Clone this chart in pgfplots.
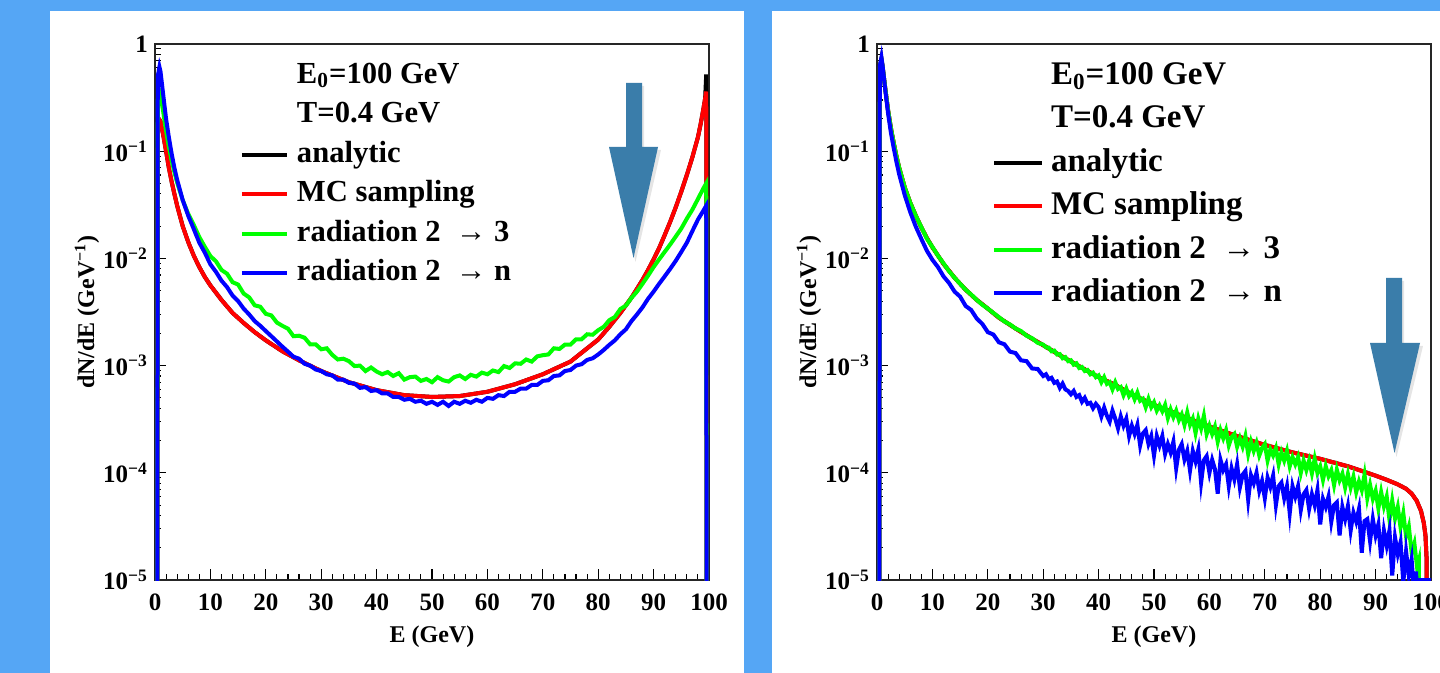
\documentclass[border=0pt]{standalone}
\usepackage{fontspec}
\setmainfont{Liberation Serif}
\usepackage{pgfplots}
\pgfplotsset{compat=1.18}
\usepackage{pgfplotstable}
\definecolor{bgblue}{RGB}{85,166,245}
\definecolor{arrowblue}{RGB}{58,125,170}
\definecolor{rgreen}{RGB}{0,255,0}
\definecolor{rblue}{RGB}{0,0,255}
\definecolor{rred}{RGB}{255,0,0}

% ---------------- left panel ----------------
\pgfplotstableread{
x y
0.4 1e-6
0.5 0.2
0.7 0.2
1 0.19
1.5 0.14
2 0.1
2.5 0.07
3 0.052
3.5 0.04
4 0.031
5 0.02
6 0.0142
7 0.0106
8 0.0083
9 0.0067
10 0.0056
12 0.0041
14 0.0031
16 0.0025
18 0.00205
20 0.00172
23 0.00136
26 0.00112
30 0.00089
35 0.00070
40 0.00059
45 0.00053
50 0.00051
55 0.00052
60 0.00057
65 0.00067
70 0.00083
75 0.00109
80 0.00175
82 0.0023
84 0.0031
86 0.0043
88 0.0063
89 0.0078
90 0.0098
91 0.0125
92 0.0165
93 0.022
94 0.030
95 0.042
96 0.060
97 0.088
98 0.135
98.5 0.18
99 0.25
99.3 0.31
99.5 0.52
99.6 1e-6
}\LBlack
\pgfplotstableread{
x y
0.4 1e-6
0.5 0.17
0.7 0.2
1 0.19
1.5 0.14
2 0.1
2.5 0.07
3 0.052
3.5 0.04
4 0.031
5 0.02
6 0.0142
7 0.0106
8 0.0083
9 0.0067
10 0.0056
12 0.0041
14 0.0031
16 0.0025
18 0.00205
20 0.00172
23 0.00136
26 0.00112
30 0.00089
35 0.00070
40 0.00059
45 0.00053
50 0.00051
55 0.00052
60 0.00057
65 0.00067
70 0.00083
75 0.00109
80 0.00175
82 0.0023
84 0.0031
86 0.0043
88 0.0063
89 0.0078
90 0.0098
91 0.0125
92 0.0165
93 0.022
94 0.030
95 0.042
96 0.060
97 0.088
98 0.135
98.5 0.18
99 0.25
99.3 0.31
99.5 0.36
99.6 1e-6
}\LRed
\pgfplotstableread{
x y
0.4 1e-6
0.5 0.3
0.8 0.36
1 0.33
1.5 0.23
2 0.155
2.5 0.11
3 0.082
3.5 0.064
4 0.051
5 0.035
6 0.026
7 0.0205
8 0.0158
9 0.0128
10 0.0105
11 0.0094
12 0.0078
13 0.0072
14 0.0060
15 0.0057
16 0.0047
17 0.00433
18 0.00365
19 0.00354
20 0.00304
21 0.00294
22 0.00252
23 0.00235
24 0.00221
25 0.00188
26 0.00190
27 0.00182
28 0.00158
29 0.00158
30 0.00142
31 0.00145
32 0.00126
33 0.00114
34 0.00116
35 0.00110
36 0.00099
37 0.00100
38 0.00089
39 0.00096
40 0.00088
41 0.00083
42 0.00087
43 0.00080
44 0.00085
45 0.00074
46 0.00078
47 0.00079
48 0.00072
49 0.00075
50 0.00070
51 0.00078
52 0.00073
53 0.00071
54 0.00078
55 0.00081
56 0.00075
57 0.00082
58 0.00079
59 0.00086
60 0.00083
61 0.00090
62 0.00087
63 0.00099
64 0.00095
65 0.00105
66 0.00104
67 0.00114
68 0.00109
69 0.00122
70 0.00125
71 0.00127
72 0.00145
73 0.00143
74 0.00157
75 0.00157
76 0.00176
77 0.00176
78 0.00196
79 0.00194
80 0.00214
81 0.00230
82 0.00265
83 0.00284
84 0.00337
85 0.00363
86 0.00428
87 0.00490
88 0.00580
89 0.00690
90 0.0083
91 0.0098
92 0.0115
93 0.0135
94 0.0160
95 0.0190
96 0.0235
97 0.0285
98 0.0358
99 0.0452
99.5 0.050
99.6 1e-6
}\LGreen
\pgfplotstableread{
x y
0.4 1e-6
0.5 0.5
0.8 0.61
1 0.55
1.5 0.33
2 0.2
2.5 0.135
3 0.095
3.5 0.07
4 0.054
5 0.035
6 0.025
7 0.0188
8 0.0140
9 0.0113
10 0.0088
11 0.0075
12 0.0062
13 0.0054
14 0.0045
15 0.0040
16 0.0034
17 0.0030
18 0.0026
19 0.00235
20 0.0021
21 0.00188
22 0.00168
23 0.00150
24 0.00135
25 0.00121
26 0.00116
27 0.00104
28 0.00100
29 0.00092
30 0.00089
31 0.00083
32 0.00081
33 0.00074
34 0.00074
35 0.00069
36 0.00068
37 0.00062
38 0.00063
39 0.00058
40 0.00059
41 0.00055
42 0.00055
43 0.00051
44 0.00051
45 0.00048
46 0.00049
47 0.00046
48 0.00047
49 0.00044
50 0.00046
51 0.00043
52 0.00046
53 0.00042
54 0.00046
55 0.00044
56 0.00047
57 0.00045
58 0.00048
59 0.00046
60 0.00050
61 0.00049
62 0.00053
63 0.00052
64 0.00057
65 0.00057
66 0.00061
67 0.00061
68 0.00066
69 0.00066
70 0.00072
71 0.00073
72 0.00080
73 0.00081
74 0.00089
75 0.00091
76 0.00100
77 0.00103
78 0.00113
79 0.00117
80 0.00127
81 0.00140
82 0.00156
83 0.00172
84 0.00196
85 0.00218
86 0.0026
87 0.0030
88 0.0035
89 0.0042
90 0.0049
91 0.0058
92 0.0068
93 0.0080
94 0.0095
95 0.0115
96 0.0140
97 0.0180
98 0.0230
99 0.0280
99.5 0.031
99.6 1e-6
}\LBlue

% ---------------- right panel ----------------
\pgfplotstableread{
x y
0.4 1e-6
0.5 0.6
0.8 0.72
1 0.62
1.5 0.38
2 0.24
2.5 0.165
3 0.12
3.5 0.09
4 0.07
5 0.046
6 0.033
7 0.025
8 0.0195
9 0.0155
10 0.0127
12 0.0089
14 0.0066
16 0.0051
18 0.0041
20 0.0034
22 0.0028
25 0.00222
28 0.00178
30 0.00155
33 0.00125
36 0.00102
40 0.00078
43 0.00066
46 0.00054
50 0.00043
55 0.00034
60 0.00027
65 0.00022
70 0.000182
75 0.000155
80 0.000135
85 0.000115
88 0.000102
90 0.000094
92 0.000086
94 0.000078
95.5 0.000071
96.5 0.000064
97.4 0.000055
98.2 0.000044
98.7 0.000034
99 0.000026
99.2 0.000016
99.3 1e-6
}\RRed
\pgfplotstableread{
x y
0.4 1e-6
0.5 0.6
0.8 0.72
1 0.62
1.5 0.38
2 0.24
2.5 0.165
3 0.12
3.5 0.09
4 0.07
5 0.046
6 0.033
7 0.025
8 0.0196
9 0.0153
10 0.0128
11 0.0106
12 0.0090
13 0.0076
14 0.0066
15 0.0058
16 0.0051
17 0.0046
18 0.0041
19 0.0037
20 0.0034
21 0.0031
22 0.00283
23 0.00258
24 0.00242
25 0.00222
26 0.00210
27 0.00190
28 0.00180
29 0.00163
30 0.00157
30.5 0.00148
31 0.00147
31.5 0.00136
32 0.00138
32.5 0.00127
33 0.00128
33.5 0.00117
34 0.00120
34.5 0.00110
35 0.00112
35.5 0.00102
36 0.00105
36.5 0.00095
37 0.00097
37.5 0.00089
38 0.00091
38.5 0.00083
39 0.00086
39.5 0.00078
40 0.00081
40.5 0.00070
41 0.00078
41.5 0.000675
42 0.00070
42.5 0.00060
43 0.00070
43.5 0.000605
44 0.00063
44.5 0.00053
45 0.00061
45.5 0.00052
46 0.000565
46.5 0.000485
47 0.00056
47.5 0.00047
48 0.00049
48.5 0.00041
49 0.00049
49.5 0.00041
50 0.000455
50.5 0.00038
51 0.000425
51.5 0.000375
52 0.00043
52.5 0.000325
53 0.00039
53.5 0.00033
54 0.00038
54.5 0.00031
55 0.00035
55.5 0.00028
56 0.000365
56.5 0.00028
57 0.00032
57.5 0.000235
58 0.00032
58.5 0.00026
59 0.00034
59.5 0.00023
60 0.000275
60.5 0.00023
61 0.00027
61.5 0.000195
62 0.00025
62.5 0.00021
63 0.00025
63.5 0.00018
64 0.000215
64.5 0.00023
65 0.000175
65.5 0.00021
66 0.000175
66.5 0.00022
67 0.00015
67.5 0.000195
68 0.00016
68.5 0.00019
69 0.000145
69.5 0.00017
70 0.000185
70.5 0.00013
71 0.000165
71.5 0.000145
72 0.00017
72.5 0.00012
73 0.000155
73.5 0.00013
74 0.00016
74.5 0.000115
75 0.00014
75.5 0.00012
76 0.00014
76.5 0.00010
77 0.00013
77.5 0.000106
78 0.00013
78.5 0.000099
79 0.000135
79.5 0.00010
80 0.000115
80.5 0.000086
81 0.000115
81.5 0.000093
82 0.000106
82.5 0.000077
83 0.000107
83.5 0.000085
84 0.000098
84.5 0.000073
85 0.000097
85.5 0.000073
86 0.000092
86.5 0.000066
87 0.000083
87.5 0.000069
88 0.000096
88.5 0.000058
89 0.000077
89.5 0.000057
90 0.000068
90.5 0.0000465
91 0.000066
91.5 0.0000485
92 0.000060
92.5 0.0000365
93 0.000055
93.5 0.0000375
94 0.000048
94.5 0.000031
95 0.000042
95.5 0.0000255
96 0.0000315
96.5 0.000018
97 0.000022
97.5 0.000013
97.8 0.000015
98 1e-6
}\RGreen
\pgfplotstableread{
x y
0.4 1e-6
0.5 0.62
0.8 0.75
1 0.63
1.5 0.37
2 0.225
2.5 0.15
3 0.108
3.5 0.08
4 0.061
5 0.039
6 0.027
7 0.0198
8 0.0152
9 0.0118
10 0.0097
11 0.0083
12 0.0068
13 0.0059
14 0.0049
15 0.0044
16 0.0036
17 0.0033
18 0.00275
19 0.00245
20 0.00205
21 0.00195
22 0.00165
23 0.00158
24 0.00135
25 0.00131
26 0.00112
27 0.00110
28 0.00094
29 0.00093
30 0.00080
30.5 0.00083
31 0.00075
31.5 0.00077
32 0.00069
32.5 0.00071
33 0.00062
33.5 0.00068
34 0.00060
34.5 0.00058
35 0.00054
35.5 0.00058
36 0.00051
36.5 0.00053
37 0.00046
37.5 0.00050
38 0.00044
38.5 0.00045
39 0.00040
39.5 0.00044
40 0.00041
40.5 0.000335
41 0.000405
41.5 0.00034
42 0.00030
42.5 0.00038
43 0.00032
43.5 0.00026
44 0.000335
44.5 0.000275
45 0.00032
45.5 0.00022
46 0.000275
46.5 0.00023
47 0.00028
47.5 0.00018
48 0.000233
48.5 0.00025
49 0.000186
49.5 0.00022
50 0.000145
50.5 0.00022
51 0.00018
51.5 0.00022
52 0.00015
52.5 0.000185
53 0.000155
53.5 0.000195
54 0.00011
54.5 0.000164
55 0.000185
55.5 0.000133
56 0.00016
56.5 0.000105
57 0.00016
57.5 0.000128
58 0.000165
58.5 0.000081
59 0.000131
59.5 0.000143
60 0.00010
60.5 0.000132
61 0.000108
61.5 0.000064
62 0.000132
62.5 0.000106
63 0.00012
63.5 0.000075
64 0.00011
64.5 0.000087
65 0.00012
65.5 0.000073
66 0.000096
66.5 0.000104
67 0.000056
67.5 0.000095
68 0.00008
68.5 0.0001
69 0.000068
69.5 0.000084
70 0.000058
70.5 0.00009
71 0.000074
71.5 0.000094
72 0.00005
72.5 0.000075
73 0.000081
73.5 0.000058
74 0.000075
74.5 0.000042
75 0.000075
75.5 0.00006
76 0.000075
76.5 0.000045
77 0.000063
77.5 0.000069
78 0.000046
78.5 0.000063
79 0.00005
79.5 0.000069
80 0.000033
80.5 0.000057
81 0.000048
81.5 0.00006
82 0.000035
82.5 0.00005
83 0.000053
83.5 0.000026
84 0.000048
84.5 0.000037
85 0.000049
85.5 0.000029
86 0.0000425
86.5 0.000035
87 0.000046
87.5 0.000018
88 0.0000355
88.5 0.000037
89 0.000023
89.5 0.000037
90 0.000026
90.5 0.000033
91 0.000016
91.5 0.000029
92 0.000021
92.5 0.000029
93 0.000011
93.5 0.000025
94 0.0000175
94.5 0.0000225
95 0.0000095
95.5 0.0000185
96 0.000011
96.5 0.0000155
97 0.000007
97.3 0.000012
97.6 0.000005
97.7 0.00001
100 0.00001
}\RBlue

\begin{document}
\begin{tikzpicture}
\useasboundingbox (0pt,0pt) rectangle (720pt,336.5pt);
\clip (0pt,0pt) rectangle (720pt,336.5pt);
\fill[bgblue] (0pt,0pt) rectangle (720pt,336.5pt);
\fill[white] (25pt,0pt) rectangle (372pt,331pt);
\fill[white] (386pt,0pt) rectangle (720pt,331pt);

\begin{axis}[
    ymode=log,
    scale only axis, width=277pt, height=268pt, anchor=south west, at={(77.5pt,46.5pt)},
    xmin=0, xmax=100, ymin=1e-5, ymax=1,
    axis line style={line width=0.6pt, black!85},
    tick align=inside, xtick pos=bottom, ytick pos=left,
    major tick length=5.5pt, minor tick length=2.8pt,
    tick style={black, line width=0.55pt},
    xtick={0,10,20,30,40,50,60,70,80,90,100},
    xticklabels={0,10,20,30,40,50,60,70,80,90,100},
    minor x tick num=4,
    ytick={1e-5,1e-4,1e-3,1e-2,1e-1,1},
    yticklabels={10\textsuperscript{−5},10\textsuperscript{−4},10\textsuperscript{−3},10\textsuperscript{−2},10\textsuperscript{−1},1},
    minor ytick={2e-5,3e-5,4e-5,5e-5,6e-5,7e-5,8e-5,9e-5,2e-4,3e-4,4e-4,5e-4,6e-4,7e-4,8e-4,9e-4,2e-3,3e-3,4e-3,5e-3,6e-3,7e-3,8e-3,9e-3,2e-2,3e-2,4e-2,5e-2,6e-2,7e-2,8e-2,9e-2,0.2,0.3,0.4,0.5,0.6,0.7,0.8,0.9},
    ticklabel style={font=\fontsize{12.5}{12.5}\selectfont\bfseries},
    xticklabel style={yshift=-3.5pt},
    xlabel={E (GeV)}, ylabel={dN/dE (GeV\textsuperscript{−1})},
    label style={font=\fontsize{12}{12}\selectfont\bfseries},
    xlabel style={at={(axis description cs:0.5,-0.106)},anchor=center},
    ylabel style={at={(axis description cs:-0.1227,0.5)},anchor=center},
    legend cell align=left,
  legend style={draw=none, fill=none, at={(axis description cs:0.1534,0.968)}, anchor=north west,
    inner sep=0pt, outer sep=0pt, row sep=5.25pt, column sep=4pt,
    nodes={font=\fontsize{15.3}{15.3}\selectfont\bfseries, inner sep=0pt, text height=11pt, text depth=3.5pt}},
  legend image code/.code={\draw[#1, line width=2pt] (0pt,0pt) -- (22.5pt,0pt);}]
\addlegendimage{empty legend}\addlegendentry{E\textsubscript{0}=100 GeV}
\addlegendimage{empty legend}\addlegendentry{T=0.4 GeV}
\addplot[black, line width=2pt] table[x=x,y=y] {\LBlack};
\addlegendentry{analytic}
\addplot[rred, line width=2pt] table[x=x,y=y] {\LRed};
\addlegendentry{MC sampling}
\addplot[rgreen, line width=2pt] table[x=x,y=y] {\LGreen};
\addlegendentry{radiation 2\ \ → 3}
\addplot[rblue, line width=2pt] table[x=x,y=y] {\LBlue};
\addlegendentry{radiation 2\ \ → n}
\end{axis}

\begin{axis}[
    ymode=log,
    scale only axis, width=277pt, height=268pt, anchor=south west, at={(438.5pt,46.5pt)},
    xmin=0, xmax=100, ymin=1e-5, ymax=1,
    axis line style={line width=0.6pt, black!85},
    tick align=inside, xtick pos=bottom, ytick pos=left,
    major tick length=5.5pt, minor tick length=2.8pt,
    tick style={black, line width=0.55pt},
    xtick={0,10,20,30,40,50,60,70,80,90,100},
    xticklabels={0,10,20,30,40,50,60,70,80,90,100},
    minor x tick num=4,
    ytick={1e-5,1e-4,1e-3,1e-2,1e-1,1},
    yticklabels={10\textsuperscript{−5},10\textsuperscript{−4},10\textsuperscript{−3},10\textsuperscript{−2},10\textsuperscript{−1},1},
    minor ytick={2e-5,3e-5,4e-5,5e-5,6e-5,7e-5,8e-5,9e-5,2e-4,3e-4,4e-4,5e-4,6e-4,7e-4,8e-4,9e-4,2e-3,3e-3,4e-3,5e-3,6e-3,7e-3,8e-3,9e-3,2e-2,3e-2,4e-2,5e-2,6e-2,7e-2,8e-2,9e-2,0.2,0.3,0.4,0.5,0.6,0.7,0.8,0.9},
    ticklabel style={font=\fontsize{12.5}{12.5}\selectfont\bfseries},
    xticklabel style={yshift=-3.5pt},
    xlabel={E (GeV)}, ylabel={dN/dE (GeV\textsuperscript{−1})},
    label style={font=\fontsize{12}{12}\selectfont\bfseries},
    xlabel style={at={(axis description cs:0.5,-0.106)},anchor=center},
    ylabel style={at={(axis description cs:-0.1227,0.5)},anchor=center},
    legend cell align=left,
  legend style={draw=none, fill=none, at={(axis description cs:0.2076,0.970)}, anchor=north west,
    inner sep=0pt, outer sep=0pt, row sep=5.95pt, column sep=3.5pt,
    nodes={font=\fontsize{16.5}{16.5}\selectfont\bfseries, inner sep=0pt, text height=12pt, text depth=3.8pt}},
  legend image code/.code={\draw[#1, line width=2pt] (0pt,0pt) -- (24pt,0pt);}]
\addlegendimage{empty legend}\addlegendentry{E\textsubscript{0}=100 GeV}
\addlegendimage{empty legend}\addlegendentry{T=0.4 GeV}
\addplot[black, line width=2pt] table[x=x,y=y] {\RRed};
\addlegendentry{analytic}
\addplot[rred, line width=2pt] table[x=x,y=y] {\RRed};
\addlegendentry{MC sampling}
\addplot[rgreen, line width=2pt] table[x=x,y=y] {\RGreen};
\addlegendentry{radiation 2\ \ → 3}
\addplot[rblue, line width=2pt] table[x=x,y=y] {\RBlue};
\addlegendentry{radiation 2\ \ → n}
\end{axis}

% annotation arrows (with a faint shadow)
\fill[black, opacity=0.10] (314pt,293.5pt) -- (322pt,293.5pt) -- (322pt,261.5pt) -- (330.5pt,261.5pt) -- (317.75pt,205.5pt) -- (305.5pt,261.5pt) -- (314pt,261.5pt) -- cycle;
\fill[arrowblue] (313pt,295pt) -- (321pt,295pt) -- (321pt,263pt) -- (329pt,263pt) -- (316.75pt,207.5pt) -- (304.5pt,263pt) -- (313pt,263pt) -- cycle;
\fill[black, opacity=0.10] (694pt,196pt) -- (702pt,196pt) -- (702pt,163.5pt) -- (711.5pt,163.5pt) -- (698.25pt,108pt) -- (686pt,163.5pt) -- (694pt,163.5pt) -- cycle;
\fill[arrowblue] (693pt,197.5pt) -- (701pt,197.5pt) -- (701pt,165pt) -- (710pt,165pt) -- (697.25pt,110pt) -- (685pt,165pt) -- (693pt,165pt) -- cycle;
\end{tikzpicture}
\end{document}
